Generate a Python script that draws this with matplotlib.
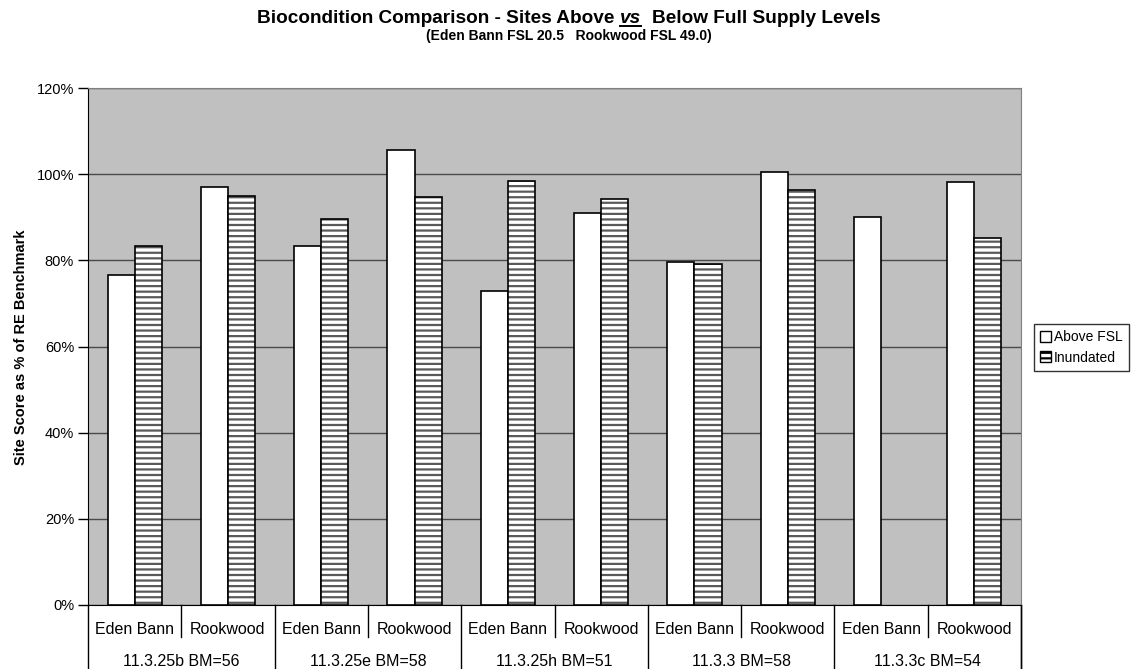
import matplotlib
matplotlib.use('Agg')
import matplotlib.pyplot as plt
from matplotlib.patches import Patch
from matplotlib.lines import Line2D
from matplotlib.ticker import PercentFormatter
import numpy as np

plt.rcParams['font.family'] = ['Liberation Sans', 'DejaVu Sans']
plt.rcParams['hatch.linewidth'] = 1.6
plt.rcParams['hatch.color'] = '#5a5a5a'

# data (% of RE benchmark)
groups = ['11.3.25b BM=56', '11.3.25e BM=58', '11.3.25h BM=51', '11.3.3 BM=58', '11.3.3c BM=54']
sites = ['Eden Bann', 'Rookwood']
above_fsl = [76.6, 97.1, 83.3, 105.6, 72.9, 91.1, 79.5, 100.6, 90.0, 98.1]
inundated = [83.3, 94.9, 89.5, 94.6, 98.3, 94.2, 79.2, 96.4, None, 85.1]
yticks = [0, 20, 40, 60, 80, 100, 120]

W, H = 1138, 669
fig = plt.figure(figsize=(W / 100, H / 100), dpi=100)
fig.patch.set_facecolor('white')

# plot area in pixels: x 88..1021, y 88..605
ax = fig.add_axes([88 / W, (H - 605) / H, 933 / W, 517 / H])
ax.set_facecolor('#c0c0c0')

n = len(above_fsl)
x = np.arange(n)
bw = 0.29

ax.bar(x - bw / 2, above_fsl, width=bw, color='white', edgecolor='black', linewidth=1.2, zorder=3)

xi = [xx + bw / 2 for xx, v in zip(x, inundated) if v is not None]
vi = [v for v in inundated if v is not None]
ax.bar(xi, vi, width=bw, color='white', edgecolor='#5a5a5a', hatch='---', linewidth=0, zorder=3)
ax.bar(xi, vi, width=bw, fill=False, edgecolor='black', linewidth=1.2, zorder=4)

ax.set_xlim(-0.5, n - 0.5)
ax.set_ylim(0, 120)
ax.set_yticks(yticks)
ax.yaxis.set_major_formatter(PercentFormatter(decimals=0))
ax.set_xticks([])
ax.tick_params(axis='y', length=7, width=1, color='black', labelsize=10.5, pad=3)
ax.grid(True, axis='y', color='#4a4a4a', linewidth=1, zorder=1)
ax.set_axisbelow(True)

ax.spines['left'].set_color('black')
ax.spines['bottom'].set_color('black')
ax.spines['top'].set_color('#808080')
ax.spines['right'].set_color('#808080')

# two-level category axis below the plot
tr = ax.get_xaxis_transform()
px = 1 / 517
for i in range(n):
    ax.text(i, -25 * px, sites[i % 2], transform=tr, ha='center', va='center', fontsize=11.5)
for g, name in enumerate(groups):
    ax.text(2 * g + 0.5, -56 * px, name, transform=tr, ha='center', va='center', fontsize=11.5)
for g in range(len(groups)):
    ax.plot([2 * g + 0.5] * 2, [0, -32 * px], transform=tr, color='black', lw=1, clip_on=False)
for b in np.arange(-0.5, n, 2):
    ax.plot([b, b], [0, -66 * px], transform=tr, color='black', lw=1, clip_on=False)
ax.plot([n - 0.5] * 2, [0, -66 * px], transform=tr, color='black', lw=1, clip_on=False)

fig.text(21 / W, 1 - 347 / H, 'Site Score as % of RE Benchmark', rotation=90,
         ha='center', va='center', fontsize=10.5, fontweight='bold')

handles = [Patch(facecolor='white', edgecolor='black', label='Above FSL'),
           Patch(facecolor='white', edgecolor='black', hatch='---', label='Inundated')]
leg = fig.legend(handles=handles, loc='upper left', bbox_to_anchor=(1034 / W, 1 - 324 / H),
                 bbox_transform=fig.transFigure, fontsize=10, frameon=True, fancybox=False,
                 edgecolor='black', handlelength=0.8, handleheight=0.8, handletextpad=0.2,
                 borderpad=0.45, labelspacing=0.45, borderaxespad=0)
leg.get_frame().set_linewidth(1)

# title with underlined italic "vs"
ty = H - 23
parts = [('Biocondition Comparison - Sites Above', 'normal'), ('vs', 'italic'),
         ('Below Full Supply Levels', 'normal')]
gaps = [5, 11]
texts = [fig.text(0, ty / H, s, ha='left', va='baseline', fontsize=13.7, fontweight='bold', fontstyle=st)
         for s, st in parts]
fig.canvas.draw()
r = fig.canvas.get_renderer()
widths = [t.get_window_extent(r).width for t in texts]
total = sum(widths) + sum(gaps)
xpos = W / 2 - total / 2
for i, t in enumerate(texts):
    t.set_x(xpos / W)
    if i == 1:
        fig.add_artist(Line2D([xpos / W, (xpos + widths[i]) / W], [(ty - 3) / H] * 2,
                              transform=fig.transFigure, color='black', lw=1.4))
    xpos += widths[i] + (gaps[i] if i < len(gaps) else 0)

fig.text(0.5, 1 - 36 / H, '(Eden Bann FSL 20.5   Rookwood FSL 49.0)', ha='center', va='center',
         fontsize=10, fontweight='bold')

fig.savefig('out.png', dpi=100, facecolor='white')
